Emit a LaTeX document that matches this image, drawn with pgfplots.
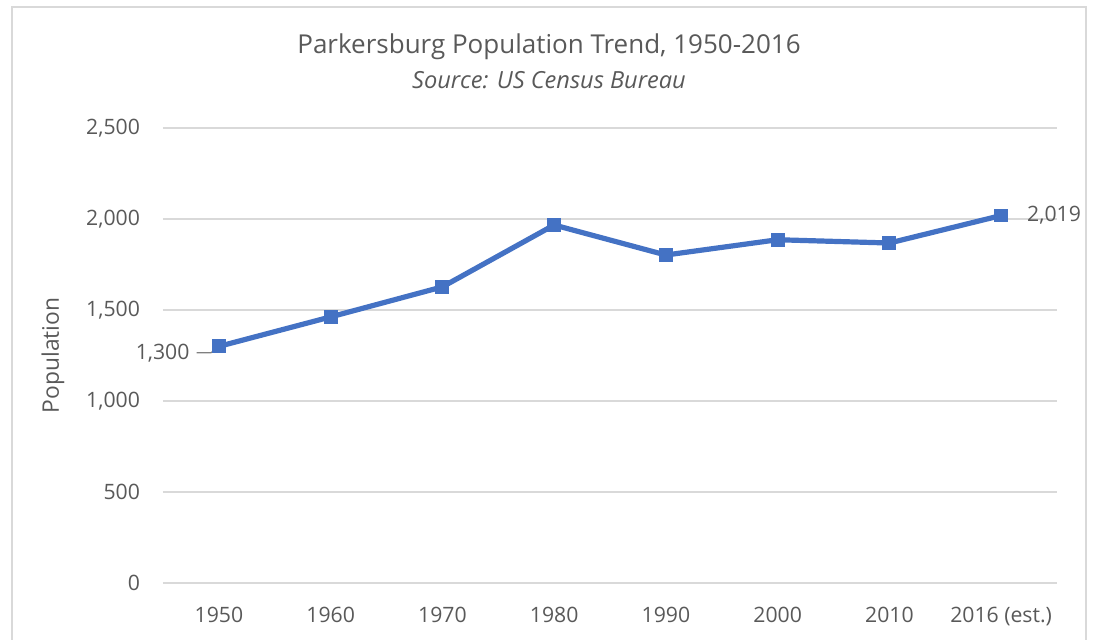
\documentclass[border=0pt]{standalone}
\usepackage{fontspec}
\setmainfont{Open Sans}
\usepackage{pgfplots}
\pgfplotsset{compat=1.18}
\definecolor{ser}{HTML}{4472C4}
\definecolor{txt}{HTML}{595959}
\definecolor{grd}{HTML}{D9D9D9}
\begin{document}
\begin{tikzpicture}
\useasboundingbox (0,0) rectangle (547pt,320pt);
\draw[grd, line width=0.8pt] (6pt,0) -- (6pt,316.5pt) -- (543pt,316.5pt) -- (543pt,0);
\node[txt, font=\fontsize{13}{15}\selectfont] at (274.5pt,296.8pt) {Parkersburg Population Trend, 1950-2016};
\node[txt, font=\fontsize{11.8}{13}\selectfont\itshape] at (274.5pt,279.8pt) {Source: US Census Bureau};
\begin{axis}[
  at={(81.5pt,28.5pt)}, anchor=south west,
  scale only axis, width=447pt, height=227.5pt,
  xmin=-0.5, xmax=7.5, ymin=0, ymax=2500,
  xtick={0,...,7},
  xticklabels={1950,1960,1970,1980,1990,2000,2010,2016 (est.)},
  ytick={0,500,1000,1500,2000,2500},
  scaled y ticks=false,
  /pgf/number format/assume math mode=true,
  /pgf/number format/1000 sep={,},
  ymajorgrids, grid style={grd, line width=0.75pt},
  axis line style={draw=none},
  major tick length=0pt,
  tick label style={txt, font=\fontsize{10.6}{12}\selectfont},
  xticklabel style={yshift=-8.5pt},
  yticklabel style={xshift=-8pt},
  clip=false,
]
\addplot[ser, line width=2.6pt, mark=square*, mark size=3.2pt, mark options={line width=0pt, fill=ser}]
  coordinates {(0,1300) (1,1462) (2,1627) (3,1967) (4,1802) (5,1886) (6,1868) (7,2019)};
\draw[gray, line width=0.6pt] (axis cs:-0.2,1265) -- (axis cs:-0.07,1265) -- (axis cs:0,1300);
\node[txt, font=\fontsize{10.6}{12}\selectfont, anchor=east] at (axis cs:-0.2,1265) {1,300};
\node[txt, font=\fontsize{10.6}{12}\selectfont, anchor=west] at (axis cs:7.17,2019) {2,019};
\node[txt, font=\fontsize{11.4}{13}\selectfont, rotate=90] at ([xshift=-55pt]rel axis cs:0,0.5) {Population};
\end{axis}
\end{tikzpicture}
\end{document}
